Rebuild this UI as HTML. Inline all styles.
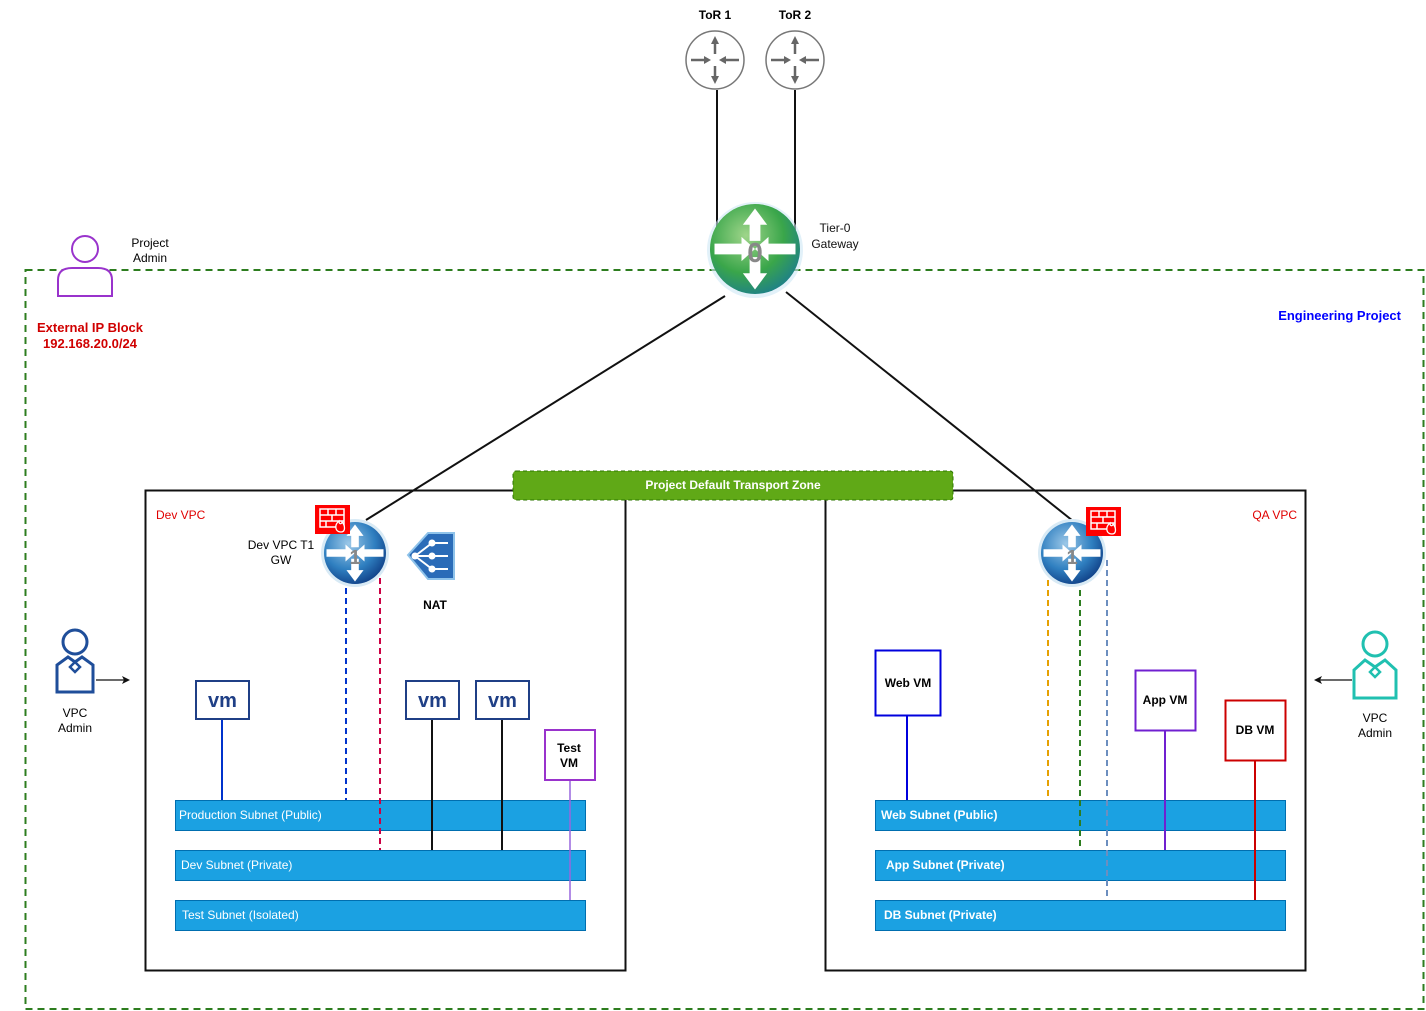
<!DOCTYPE html>
<html><head><meta charset="utf-8"><style>
html,body{margin:0;padding:0;background:#fff;width:1426px;height:1011px;overflow:hidden}
svg{display:block;font-family:"Liberation Sans",Arial,sans-serif}
</style></head><body>
<svg width="1426" height="1011" viewBox="0 0 1426 1011" xmlns="http://www.w3.org/2000/svg">
<defs>
<radialGradient id="g0" cx="0.4" cy="0.35" r="0.7"><stop offset="0" stop-color="#9fd58a"/><stop offset="0.6" stop-color="#3aa64a"/><stop offset="1" stop-color="#1d7f8a"/></radialGradient>
<radialGradient id="g1" cx="0.4" cy="0.35" r="0.7"><stop offset="0" stop-color="#9cc8e8"/><stop offset="0.6" stop-color="#2f7fc0"/><stop offset="1" stop-color="#0f3f86"/></radialGradient>
<g id="arr4" fill="#fff">
<path d="M0,-30 L-9,-18 -4,-18 -4,-6 4,-6 4,-18 9,-18Z"/>
<path d="M0,30 L-9,18 -4,18 -4,6 4,6 4,18 9,18Z"/>
<path d="M-30,-4 L-10,-4 -10,-9 0,0 -10,9 -10,4 -30,4Z"/>
<path d="M30,-4 L10,-4 10,-9 0,0 10,9 10,4 30,4Z"/>
</g>
<g id="tor"><circle r="29" fill="#fff" stroke="#777" stroke-width="1.5"/>
<g stroke="#666" stroke-width="2.5" fill="#666">
<line x1="0" y1="-6" x2="0" y2="-20"/><path d="M-4,-16 L0,-24 4,-16Z" stroke="none"/>
<line x1="0" y1="6" x2="0" y2="20"/><path d="M-4,16 L0,24 4,16Z" stroke="none"/>
<line x1="-24" y1="0" x2="-8" y2="0"/><path d="M-11,-4 L-4,0 -11,4Z" stroke="none"/>
<line x1="24" y1="0" x2="8" y2="0"/><path d="M11,-4 L4,0 11,4Z" stroke="none"/>
</g></g>
<g id="fw"><rect width="35" height="29" fill="#f00"/>
<g stroke="#fff" stroke-width="1.5" fill="none"><rect x="5" y="4" width="24" height="18"/><line x1="5" y1="10" x2="29" y2="10"/><line x1="5" y1="16" x2="29" y2="16"/><line x1="13" y1="4" x2="13" y2="10"/><line x1="21" y1="4" x2="21" y2="10"/><line x1="17" y1="10" x2="17" y2="16"/><line x1="11" y1="16" x2="11" y2="22"/></g>
<path d="M26,27 C20,27 19,20 24,16 C24,20 27,19 27,17 C30,20 31,27 26,27Z" fill="#f00" stroke="#fff" stroke-width="1.3"/></g>
<g id="vm"><rect width="53" height="38" fill="#fff" stroke="#1f3f86" stroke-width="2"/><text x="26.5" y="26" text-anchor="middle" font-size="20" font-weight="bold" fill="#1f3f86">vm</text></g>
</defs>

<!-- engineering project -->
<rect x="25.5" y="270" width="1398" height="739" fill="none" stroke="#2d7d1f" stroke-width="2" stroke-dasharray="7,5"/>
<text x="1401" y="320" text-anchor="end" font-size="13" font-weight="bold" fill="#0000ff">Engineering Project</text>

<!-- VPC boxes -->
<rect x="145.5" y="490.5" width="480" height="480" fill="#fff" stroke="#111" stroke-width="2"/>
<rect x="825.5" y="490.5" width="480" height="480" fill="#fff" stroke="#111" stroke-width="2"/>
<text x="156" y="519" font-size="12" fill="#e00000">Dev VPC</text>
<text x="1297" y="519" text-anchor="end" font-size="12" fill="#e00000">QA VPC</text>

<!-- lines -->
<line x1="717" y1="90" x2="717" y2="230" stroke="#111" stroke-width="2"/>
<line x1="795" y1="90" x2="795" y2="230" stroke="#111" stroke-width="2"/>
<line x1="725" y1="296" x2="366" y2="520" stroke="#111" stroke-width="2"/>
<line x1="786" y1="292" x2="1073" y2="521" stroke="#111" stroke-width="2"/>

<!-- transport zone -->
<rect x="513" y="471" width="440" height="29" rx="3" fill="#60a917" stroke="#2d7600" stroke-dasharray="4,3"/>
<text x="733" y="489" text-anchor="middle" font-size="12" font-weight="bold" fill="#fff">Project Default Transport Zone</text>

<!-- ToRs -->
<text x="715" y="19" text-anchor="middle" font-size="12" font-weight="bold">ToR 1</text>
<text x="795" y="19" text-anchor="middle" font-size="12" font-weight="bold">ToR 2</text>
<use href="#tor" x="715" y="60"/><use href="#tor" x="795" y="60"/>

<!-- T0 -->
<circle cx="755" cy="250" r="48" fill="#cfe8f5" opacity="0.6"/>
<circle cx="755" cy="249" r="45" fill="url(#g0)"/>
<use href="#arr4" x="755" y="249" transform="translate(755,249) scale(1.35) translate(-755,-249)"/>
<text x="755" y="262" text-anchor="middle" font-size="28" font-weight="bold" fill="#888">0</text>
<text x="835" y="232" text-anchor="middle" font-size="12" fill="#111">Tier-0</text>
<text x="835" y="248" text-anchor="middle" font-size="12" fill="#111">Gateway</text>

<!-- project admin -->
<circle cx="85" cy="249" r="13" fill="none" stroke="#9933cc" stroke-width="2"/>
<path d="M58,296 L58,280 Q58,268 72,268 L98,268 Q112,268 112,280 L112,296Z" fill="#fff" stroke="#9933cc" stroke-width="2"/>
<text x="150" y="247" text-anchor="middle" font-size="12">Project</text>
<text x="150" y="262" text-anchor="middle" font-size="12">Admin</text>
<text x="90" y="332" text-anchor="middle" font-size="13" font-weight="bold" fill="#d00000">External IP Block</text>
<text x="90" y="348" text-anchor="middle" font-size="13" font-weight="bold" fill="#d00000">192.168.20.0/24</text>

<!-- Dev T1 -->
<circle cx="355" cy="553" r="34" fill="#d8eaf5"/>
<circle cx="355" cy="553" r="31" fill="url(#g1)"/>
<use href="#arr4" transform="translate(355,553) scale(0.95)"/>
<text x="355" y="564" text-anchor="middle" font-size="20" font-weight="bold" fill="#888">1</text>
<use href="#fw" x="315" y="505"/>
<text x="281" y="549" text-anchor="middle" font-size="12">Dev VPC T1</text>
<text x="281" y="564" text-anchor="middle" font-size="12">GW</text>
<!-- NAT -->
<path d="M408,555 L428,533 L454,533 L454,579 L428,579Z" fill="#2b6cb8" stroke="#8fc3ea" stroke-width="2"/>
<g stroke="#fff" stroke-width="2" fill="#fff"><circle cx="415" cy="556" r="2.5"/><circle cx="432" cy="543" r="2.5"/><circle cx="432" cy="556" r="2.5"/><circle cx="432" cy="569" r="2.5"/><line x1="415" y1="556" x2="432" y2="543"/><line x1="415" y1="556" x2="432" y2="569"/><line x1="415" y1="556" x2="448" y2="556"/><line x1="432" y1="543" x2="448" y2="543"/><line x1="432" y1="569" x2="448" y2="569"/></g>
<text x="435" y="609" text-anchor="middle" font-size="12" font-weight="bold">NAT</text>

<!-- QA T1 -->
<circle cx="1072" cy="553" r="34" fill="#d8eaf5"/>
<circle cx="1072" cy="553" r="31" fill="url(#g1)"/>
<use href="#arr4" transform="translate(1072,553) scale(0.95)"/>
<text x="1072" y="564" text-anchor="middle" font-size="20" font-weight="bold" fill="#888">1</text>
<use href="#fw" x="1086" y="507"/>

<!-- Dev subnets -->
<rect x="175.5" y="800.5" width="410" height="30" fill="#1ba1e2" stroke="#006eaf"/>
<rect x="175.5" y="850.5" width="410" height="30" fill="#1ba1e2" stroke="#006eaf"/>
<rect x="175.5" y="900.5" width="410" height="30" fill="#1ba1e2" stroke="#006eaf"/>
<text x="179" y="819" font-size="12" fill="#fff">Production Subnet (Public)</text>
<text x="181" y="869" font-size="12" fill="#fff">Dev Subnet (Private)</text>
<text x="182" y="919" font-size="12" fill="#fff">Test Subnet (Isolated)</text>

<!-- QA subnets -->
<rect x="875.5" y="800.5" width="410" height="30" fill="#1ba1e2" stroke="#006eaf"/>
<rect x="875.5" y="850.5" width="410" height="30" fill="#1ba1e2" stroke="#006eaf"/>
<rect x="875.5" y="900.5" width="410" height="30" fill="#1ba1e2" stroke="#006eaf"/>
<text x="881" y="819" font-size="12" font-weight="bold" fill="#fff">Web Subnet (Public)</text>
<text x="886" y="869" font-size="12" font-weight="bold" fill="#fff">App Subnet (Private)</text>
<text x="884" y="919" font-size="12" font-weight="bold" fill="#fff">DB Subnet (Private)</text>

<!-- Dev connectors -->
<line x1="346" y1="588" x2="346" y2="800" stroke="#0033cc" stroke-width="2" stroke-dasharray="6,4"/>
<line x1="380" y1="578" x2="380" y2="850" stroke="#cc0044" stroke-width="2" stroke-dasharray="6,4"/>
<line x1="222" y1="719" x2="222" y2="800" stroke="#0033cc" stroke-width="2"/>
<line x1="432" y1="719" x2="432" y2="850" stroke="#111" stroke-width="2"/>
<line x1="502" y1="719" x2="502" y2="850" stroke="#111" stroke-width="2"/>
<line x1="570" y1="780" x2="570" y2="900" stroke="#9966dd" stroke-width="1.5"/>
<use href="#vm" x="196" y="681"/><use href="#vm" x="406" y="681"/><use href="#vm" x="476" y="681"/>
<rect x="545" y="730" width="50" height="50" fill="#fff" stroke="#9933cc" stroke-width="2"/>
<text x="569" y="752" text-anchor="middle" font-size="12" font-weight="bold">Test</text>
<text x="569" y="767" text-anchor="middle" font-size="12" font-weight="bold">VM</text>

<!-- QA connectors -->
<line x1="1048" y1="580" x2="1048" y2="800" stroke="#e6a000" stroke-width="2" stroke-dasharray="6,4"/>
<line x1="1080" y1="590" x2="1080" y2="850" stroke="#2d7d1f" stroke-width="2" stroke-dasharray="6,4"/>
<line x1="1107" y1="560" x2="1107" y2="900" stroke="#6c8ebf" stroke-width="2" stroke-dasharray="6,4"/>
<line x1="907" y1="715" x2="907" y2="800" stroke="#0000dd" stroke-width="2"/>
<line x1="1165" y1="730" x2="1165" y2="850" stroke="#7020d0" stroke-width="2"/>
<line x1="1255" y1="760" x2="1255" y2="900" stroke="#cc0000" stroke-width="2"/>
<rect x="875.5" y="650.5" width="65" height="65" fill="#fff" stroke="#0000dd" stroke-width="2"/>
<text x="908" y="687" text-anchor="middle" font-size="12" font-weight="bold">Web VM</text>
<rect x="1135.5" y="670.5" width="60" height="60" fill="#fff" stroke="#7020d0" stroke-width="2"/>
<text x="1165" y="704" text-anchor="middle" font-size="12" font-weight="bold">App VM</text>
<rect x="1225.5" y="700.5" width="60" height="60" fill="#fff" stroke="#cc0000" stroke-width="2"/>
<text x="1255" y="734" text-anchor="middle" font-size="12" font-weight="bold">DB VM</text>

<!-- VPC admins -->
<circle cx="75" cy="642" r="12" fill="none" stroke="#1f4e9a" stroke-width="3"/>
<path d="M57,692 L57,665 L68,657 L75,662 L82,657 L93,665 L93,692Z" fill="#fff" stroke="#1f4e9a" stroke-width="3"/>
<path d="M75,662 L70,667 75,672 80,667Z" fill="#fff" stroke="#1f4e9a" stroke-width="2.5"/>
<line x1="96" y1="680" x2="124" y2="680" stroke="#111" stroke-width="1.3"/><path d="M130,680 L122,676 124,680 122,684Z" fill="#111"/>
<text x="75" y="717" text-anchor="middle" font-size="12">VPC</text>
<text x="75" y="732" text-anchor="middle" font-size="12">Admin</text>

<circle cx="1375" cy="644" r="12" fill="none" stroke="#20c0b0" stroke-width="3"/>
<path d="M1354,698 L1354,670 L1365,660 L1375,667 L1385,660 L1396,670 L1396,698Z" fill="#fff" stroke="#20c0b0" stroke-width="3"/>
<path d="M1375,667 L1370,672 1375,677 1380,672Z" fill="#fff" stroke="#20c0b0" stroke-width="2.5"/>
<line x1="1352" y1="680" x2="1320" y2="680" stroke="#111" stroke-width="1.3"/><path d="M1314,680 L1322,676 1320,680 1322,684Z" fill="#111"/>
<text x="1375" y="722" text-anchor="middle" font-size="12">VPC</text>
<text x="1375" y="737" text-anchor="middle" font-size="12">Admin</text>
</svg>
</body></html>
